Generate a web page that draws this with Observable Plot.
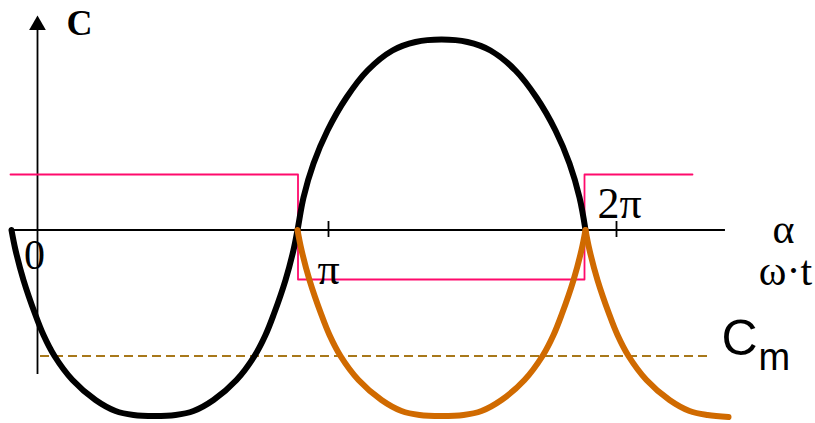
<!DOCTYPE html>
<html>
<head>
<meta charset="utf-8">
<script src="https://cdn.jsdelivr.net/npm/d3@7"></script>
<script src="https://cdn.jsdelivr.net/npm/@observablehq/plot@0.6"></script>
<style>
  html, body { margin: 0; padding: 0; background: #fff; }
  #chart svg { display: block; }
</style>
</head>
<body>
<div id="chart"></div>
<script>
// Angle α in degrees (180 = π); C in percent of its amplitude.
// Black: C(α) over the first full period.
const blackAlpha = [-18.13, -15.63, -10.63, -3.13, 1.88, 8.75, 20, 34.38, 46.88, 58.13, 71.25,
  84.38, 95.63, 108.13, 122.5, 133.75, 140.63, 145.63, 153.13, 158.13, 160.63,
  164.38, 170.63, 179.38, 191.25, 204.38, 220, 234.38, 250.63,
  266.88, 281.25, 296.88, 310, 321.88, 330.63, 336.88, 340.63];
const blackC = [0, -10.53, -26.32, -44.74, -55.26, -66.32, -78.95, -89.47, -95.26, -97.37, -97.89,
  -97.37, -95.26, -89.47, -78.95, -66.32, -55.26, -44.74, -26.32, -10.53, 0,
  17.11, 35, 52.37, 69.74, 83.95, 94.47, 98.95, 100.26,
  98.95, 94.47, 83.95, 69.74, 52.37, 35, 17.11, 0];

// Orange: negative half-wave between π and 2π ...
const orangeAlpha1 = [160.63, 163.13, 168.13, 175.63, 180.63, 187.5, 198.75, 213.13, 225.63, 236.88, 250.63,
  264.38, 275.63, 288.13, 302.5, 313.75, 320.63, 325.63, 333.13, 338.13, 340.63];
const orangeC1 = [0, -10.53, -26.32, -44.74, -55.26, -66.32, -78.95, -89.47, -95.26, -97.37, -97.89,
  -97.37, -95.26, -89.47, -78.95, -66.32, -55.26, -44.74, -26.32, -10.53, 0];
// ... and the one starting at 2π
const orangeAlpha2 = [340.63, 343.13, 348.13, 355.63, 360.63, 367.5, 378.75, 393.13, 405.63, 416.88, 430];
const orangeC2 = [0, -10.53, -26.32, -44.74, -55.26, -66.32, -78.95, -89.47, -95.26, -97.37, -98.4];

// Pink rectangular wave.
const squareAlpha = [-18.75, 160.94, 160.94, 340, 340, 407.5];
const squareC = [29.21, 29.21, -26.05, -26.05, 29.21, 29.21];

// Level C_m.
const cmLevel = -66.32;
const cmAlpha = [0, 416.9];

// Axes.
const axisAlpha = [-18.75, 428.1];
const axisC = [-76.05, 106];
const axisAt = -1.875;
const tickAlpha = [180, 360];

// Text labels.
const tickLabels = ["0", "π", "2π"];

const blackData = blackAlpha.map((a, i) => ({a, c: blackC[i]}));
const orangeData = [
  ...orangeAlpha1.map((a, i) => ({a, c: orangeC1[i], k: 1})),
  ...orangeAlpha2.map((a, i) => ({a, c: orangeC2[i], k: 2}))
];
const squareData = squareAlpha.map((a, i) => ({a, c: squareC[i]}));

const serif = "'Liberation Serif', 'Times New Roman', serif";
const sans = "'Liberation Sans', Arial, sans-serif";

const W = 815, H = 423;
const X0 = 40, XU = 1.6, Y0 = 229.5, YU = 1.9;
const px = p => (p - X0) / XU;   // pixel column → α
const py = p => (Y0 - p) / YU;   // pixel row → C

const chart = Plot.plot({
  width: W,
  height: H,
  margin: 0,
  style: {background: "#fff", overflow: "visible"},
  x: {domain: [px(0), px(W)], axis: null},
  y: {domain: [py(H), py(0)], axis: null},
  marks: [
    // horizontal α axis
    Plot.ruleY([0], {x1: axisAlpha[0], x2: axisAlpha[1], stroke: "#000", strokeWidth: 1.8}),
    // vertical C axis with arrowhead
    Plot.ruleX([axisAt], {y1: axisC[0], y2: axisC[1], stroke: "#000", strokeWidth: 1.8}),
    Plot.dot([{a: axisAt, c: py(24.6)}], {x: "a", y: "c", symbol: "triangle", r: 6.2, fill: "#000", stroke: "none"}),
    // π and 2π ticks
    Plot.ruleX(tickAlpha, {y1: py(221), y2: py(237), stroke: "#000", strokeWidth: 1.8}),
    // rectangular wave
    Plot.line(squareData, {x: "a", y: "c", stroke: "#ff0a6c", strokeWidth: 1.8, curve: "linear"}),
    // C_m level
    Plot.ruleY([cmLevel], {x1: cmAlpha[0], x2: cmAlpha[1], stroke: "#a8781a", strokeWidth: 2, strokeDasharray: "9,5"}),
    // curves
    Plot.line(blackData, {x: "a", y: "c", stroke: "#000", strokeWidth: 6, curve: "catmull-rom"}),
    Plot.line(orangeData, {x: "a", y: "c", z: "k", stroke: "#d06a00", strokeWidth: 6, curve: "catmull-rom"}),
    // labels
    Plot.text(["C"], {x: px(79), y: py(34), text: d => d, fontFamily: serif, fontWeight: "bold", fontSize: 36, textAnchor: "middle", lineAnchor: "bottom", fill: "#000"}),
    Plot.text([tickLabels[0]], {x: 0, y: py(268), dx: -6, text: d => d, fontFamily: serif, fontSize: 42, textAnchor: "middle", lineAnchor: "bottom", fill: "#000"}),
    Plot.text([tickLabels[1]], {x: tickAlpha[0], y: py(283), text: d => d, fontFamily: serif, fontSize: 44, textAnchor: "middle", lineAnchor: "bottom", fill: "#000"}),
    Plot.text([tickLabels[2]], {x: tickAlpha[1], y: py(217), dx: 3, text: d => d, fontFamily: serif, fontSize: 44, textAnchor: "middle", lineAnchor: "bottom", fill: "#000"}),
    Plot.text(["α"], {x: px(783), y: py(242), text: d => d, fontFamily: serif, fontSize: 42, textAnchor: "middle", lineAnchor: "bottom", fill: "#000"}),
    Plot.text(["ω·t"], {x: px(785), y: py(284), text: d => d, fontFamily: serif, fontSize: 42, textAnchor: "middle", lineAnchor: "bottom", fill: "#000"}),
    Plot.text(["C"], {x: px(721), y: py(354), text: d => d, fontFamily: sans, fontSize: 50, textAnchor: "start", lineAnchor: "bottom", fill: "#000"}),
    Plot.text(["m"], {x: px(758), y: py(369), text: d => d, fontFamily: sans, fontSize: 38, textAnchor: "start", lineAnchor: "bottom", fill: "#000"})
  ]
});

document.getElementById("chart").appendChild(chart);
</script>
</body>
</html>
